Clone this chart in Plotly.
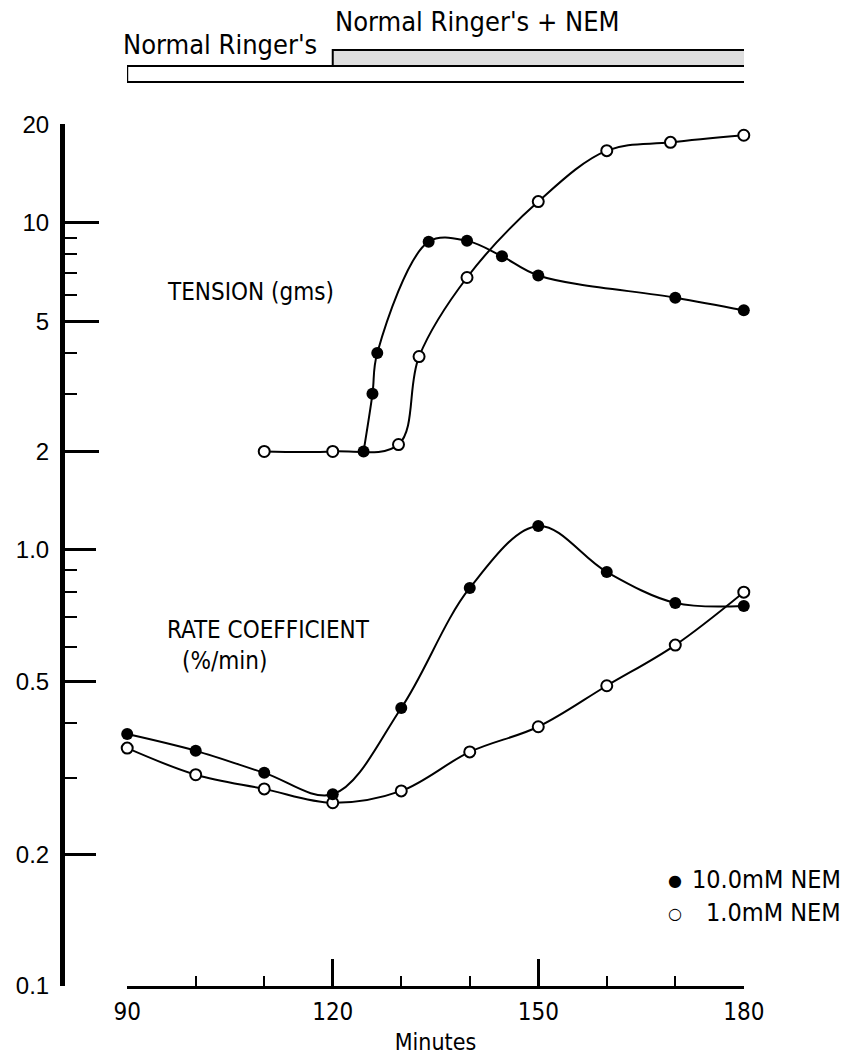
import math
import plotly.graph_objects as go

# ---------------- data ----------------
tension_10_min = [124.5, 125.8, 126.5, 134, 139.6, 144.7, 150, 170, 180]
tension_10_val = [2.0, 3.0, 4.0, 8.75, 8.8, 7.9, 6.9, 5.9, 5.4]

tension_1_min = [110, 120, 129.6, 132.6, 139.6, 150, 160, 169.3, 180]
tension_1_val = [2.0, 2.0, 2.1, 3.9, 6.8, 11.6, 16.6, 17.6, 18.5]

rate_min = [90, 100, 110, 120, 130, 140, 150, 160, 170, 180]
rate_10_val = [0.378, 0.346, 0.308, 0.275, 0.434, 0.818, 1.135, 0.89, 0.756, 0.744]
rate_1_val = [0.351, 0.305, 0.283, 0.263, 0.28, 0.344, 0.393, 0.488, 0.605, 0.80]

x_ticks = [90, 120, 150, 180]
x_minor = [100, 110, 130, 140, 160, 170]
tension_ticks = [2, 5, 10, 20]
tension_minor = [3, 4, 6, 7, 8, 9]
rate_ticks = [0.1, 0.2, 0.5, 1.0]
rate_tick_text = ["0.1", "0.2", "0.5", "1.0"]
rate_minor = [0.3, 0.4, 0.6, 0.7, 0.8, 0.9]

phase_names = ["Normal Ringer's", "Normal Ringer's + NEM"]
phase_start = [90, 120]
phase_end = [180.7, 180.7]

# ---------------- layout helpers ----------------
W, H = 847, 1059
def px(x):
    return x / W
def py(y):
    return 1 - y / H

NARROW = "Liberation Sans Narrow, DejaVu Sans Condensed, Arial Narrow, sans-serif"
SANS = "Liberation Sans, Arial, sans-serif"

fig = go.Figure()

def add_series(xs, ys, yaxis, filled):
    fig.add_trace(go.Scatter(
        x=xs, y=ys, xaxis="x", yaxis=yaxis,
        mode="lines+markers",
        line=dict(color="black", width=2, shape="spline", smoothing=1.0),
        marker=dict(size=12 if filled else 11,
                    color="black" if filled else "white",
                    line=dict(color="black", width=0 if filled else 2)),
        cliponaxis=False, showlegend=False, hoverinfo="skip"))

add_series(tension_1_min, tension_1_val, "y", False)
add_series(tension_10_min, tension_10_val, "y", True)
add_series(rate_min, rate_1_val, "y2", False)
add_series(rate_min, rate_10_val, "y2", True)

# pixel geometry of the two stacked log scales
y_top, y_split, y_bot = 124, 550, 986
rate_dec = (y_bot - y_split) / 1.0          # px per decade on the rate scale
rate_extra = 0.25                           # headroom (decades) so the peak is not clipped

fig.update_layout(
    width=W, height=H,
    margin=dict(l=0, r=0, t=0, b=0),
    paper_bgcolor="white", plot_bgcolor="rgba(0,0,0,0)",
    xaxis=dict(
        domain=[px(127), px(744)], range=[89.97, 180.03],
        anchor="y2", showline=True, linecolor="black", linewidth=3,
        ticks="inside", ticklen=27, tickwidth=3, tickcolor="black",
        tickvals=x_ticks, ticktext=[str(v) for v in x_ticks],
        minor=dict(tickvals=x_minor, ticks="inside", ticklen=10, tickwidth=2, tickcolor="black"),
        tickfont=dict(family=NARROW, size=24, color="black"),
        ticklabelstandoff=2,
        title=dict(text="Minutes", font=dict(family=NARROW, size=23, color="black"), standoff=10),
        showgrid=False, zeroline=False, automargin=False,
    ),
    yaxis=dict(
        type="log", domain=[py(y_split), py(y_top)], range=[0, math.log10(20) + 0.0005],
        anchor="free", position=px(62), side="left",
        showline=True, linecolor="black", linewidth=5,
        ticks="inside", ticklen=34, tickwidth=2.5, tickcolor="black",
        tickvals=tension_ticks, ticktext=[str(v) for v in tension_ticks],
        minor=dict(tickvals=tension_minor, ticks="inside", ticklen=12, tickwidth=2, tickcolor="black"),
        tickfont=dict(family=SANS, size=24, color="black"),
        ticklabelstandoff=6,
        showgrid=False, zeroline=False, automargin=False,
    ),
    yaxis2=dict(
        type="log", domain=[py(y_bot), py(y_split - rate_extra * rate_dec)],
        range=[-1.0005, rate_extra],
        anchor="free", position=px(62), side="left",
        showline=True, linecolor="black", linewidth=5,
        ticks="inside", ticklen=31, tickwidth=2.5, tickcolor="black",
        tickvals=rate_ticks, ticktext=rate_tick_text,
        minor=dict(tickvals=rate_minor, ticks="inside", ticklen=12, tickwidth=2, tickcolor="black"),
        tickfont=dict(family=SANS, size=24, color="black"),
        ticklabelstandoff=6,
        showgrid=False, zeroline=False, automargin=False,
    ),
)

# ---------------- header bar ----------------
shapes = []
shapes.append(dict(type="rect", xref="x", yref="paper",
                   x0=phase_start[0], x1=phase_end[0], y0=py(82), y1=py(66),
                   line=dict(color="black", width=2), fillcolor="white"))
shapes.append(dict(type="rect", xref="x", yref="paper",
                   x0=phase_start[1], x1=phase_end[1], y0=py(66), y1=py(50),
                   line=dict(color="black", width=2), fillcolor="#dedede"))
fig.update_layout(shapes=shapes)

ann = []
def text(x, y, s, size, anchor="left", xref="paper", font=NARROW):
    ann.append(dict(x=x, y=py(y), xref=xref, yref="paper", text=s,
                    showarrow=False, xanchor=anchor, yanchor="middle",
                    font=dict(family=font, size=size, color="black")))

text(px(121), 45, phase_names[0], 27)
text(phase_start[1], 22, phase_names[1], 27, xref="x")
text(px(165), 292, "TENSION (gms)", 24)
text(px(165), 630, "RATE COEFFICIENT", 24)
text(px(180), 661, "(%/min)", 24)
# legend
text(px(843), 879, "10.0mM NEM", 25, anchor="right")
text(px(843), 912, "1.0mM NEM", 25, anchor="right")
text(px(684), 880, "●", 16, anchor="right", font="DejaVu Sans")
text(px(684), 913, "○", 16, anchor="right", font="DejaVu Sans")
fig.update_layout(annotations=ann)

fig.write_html("out.html")
